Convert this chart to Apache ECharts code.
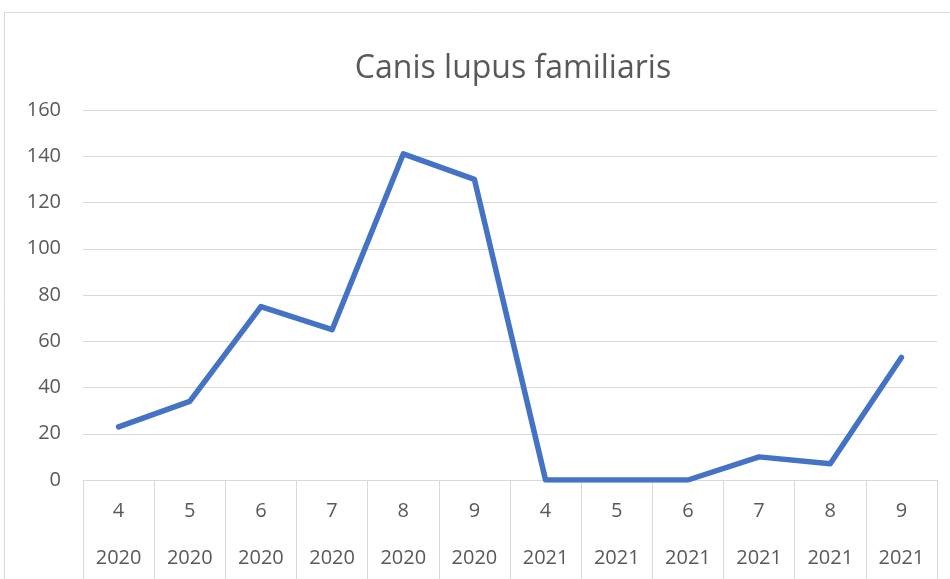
<!DOCTYPE html>
<html>
<head>
<meta charset="utf-8">
<script src="https://cdn.jsdelivr.net/npm/echarts@6/dist/echarts.min.js"></script>
<style>
html,body{margin:0;padding:0;background:#fff;}
#chart{width:950px;height:579px;}
</style>
</head>
<body>
<div id="chart"></div>
<script>
const titleText = 'Canis lupus familiaris';
const months = ['4','5','6','7','8','9','4','5','6','7','8','9'];
const years = ['2020','2020','2020','2020','2020','2020','2021','2021','2021','2021','2021','2021'];
const values = [23, 34, 75, 65, 141, 130, 0, 0, 0, 10, 7, 53];
const yTicks = { min: 0, max: 160, interval: 20 };

const categories = months.map((m, i) => m + '|' + years[i] + '|' + i);
const FONT = 'Open Sans';

const chart = echarts.init(document.getElementById('chart'), null, { renderer: 'canvas' });
chart.setOption({
  animation: false,
  backgroundColor: '#ffffff',
  graphic: [{
    type: 'rect',
    shape: { x: 4.5, y: 12.5, width: 1000, height: 700 },
    style: { fill: 'none', stroke: '#d9d9d9', lineWidth: 1 },
    silent: true,
    z: -10
  }],
  title: {
    text: titleText,
    left: 508,
    top: 48,
    textAlign: 'center',
    textStyle: { fontFamily: FONT, fontSize: 32, fontWeight: 'normal', color: '#595959' }
  },
  grid: { left: 83, right: 13, top: 110, bottom: 99, containLabel: false, outerBoundsMode: 'none' },
  xAxis: {
    type: 'category',
    data: categories,
    boundaryGap: true,
    axisLine: { show: true, lineStyle: { color: '#d9d9d9', width: 1 } },
    axisTick: { show: true, interval: 0, length: 110, lineStyle: { color: '#d9d9d9', width: 1 } },
    axisLabel: {
      interval: 0,
      margin: 8,
      fontFamily: FONT,
      fontSize: 20,
      color: '#595959',
      lineHeight: 47,
      formatter: function (v) { const p = v.split('|'); return p[0] + '\n' + p[1]; }
    },
    splitLine: { show: false }
  },
  yAxis: {
    type: 'value',
    min: yTicks.min,
    max: yTicks.max,
    interval: yTicks.interval,
    axisLine: { show: false },
    axisTick: { show: false },
    axisLabel: { margin: 22, fontFamily: FONT, fontSize: 20, color: '#595959' },
    splitLine: { show: true, lineStyle: { color: '#d9d9d9', width: 1 } }
  },
  series: [{
    type: 'line',
    data: values,
    symbol: 'none',
    lineStyle: { color: '#4472c4', width: 5.5, cap: 'round', join: 'round' },
    itemStyle: { color: '#4472c4' },
    z: 5
  }]
});
</script>
</body>
</html>
